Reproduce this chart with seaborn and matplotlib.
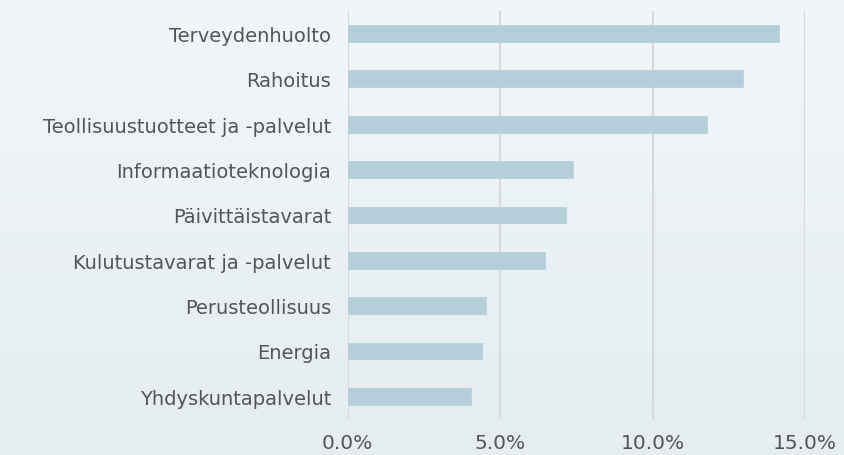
import numpy as np
import pandas as pd
import seaborn as sns
import matplotlib.pyplot as plt
from matplotlib.ticker import FuncFormatter
from matplotlib.colors import LinearSegmentedColormap

# Toimialojen painot (%)
toimialat = [
    'Terveydenhuolto',
    'Rahoitus',
    'Teollisuustuotteet ja -palvelut',
    'Informaatioteknologia',
    'Päivittäistavarat',
    'Kulutustavarat ja -palvelut',
    'Perusteollisuus',
    'Energia',
    'Yhdyskuntapalvelut',
]
osuudet = [14.13, 12.95, 11.77, 7.40, 7.17, 6.48, 4.53, 4.40, 4.05]
x_tikit = [0, 5, 10, 15]

df = pd.DataFrame({'Toimiala': toimialat, 'Osuus': osuudet})

sns.set_style('white')
plt.rcParams['font.family'] = ['DejaVu Sans']

fig = plt.figure(figsize=(8.44, 4.56), dpi=100)

# taustan liukuväri
tausta = fig.add_axes([0, 0, 1, 1], zorder=-1)
grad = np.linspace(0, 1, 256).reshape(-1, 1)
cm = LinearSegmentedColormap.from_list('bg', ['#f1f6f9', '#e5edf1'])
tausta.imshow(grad, aspect='auto', cmap=cm, extent=[0, 1, 0, 1])
tausta.axis('off')

ax = fig.add_axes([0.412, 0.079, 0.542, 0.895])
ax.patch.set_alpha(0)

sns.barplot(data=df, x='Osuus', y='Toimiala', color='#b4cfda', width=0.37,
            saturation=1, edgecolor='#b4cfda', linewidth=0.5, ax=ax, zorder=3)

ax.set_xlim(0, 15)
ax.set_ylim(8.5, -0.5)
ax.set_xticks(x_tikit)
ax.xaxis.set_major_formatter(FuncFormatter(lambda v, p: f'{v:.1f}%'))
ax.grid(axis='x', color='#d9d9d9', linewidth=1.5, zorder=0)
ax.grid(axis='y', visible=False)
for s in ax.spines.values():
    s.set_visible(False)

ax.set_xlabel('')
ax.set_ylabel('')
ax.tick_params(axis='y', length=0, pad=12, labelsize=14, labelcolor='#555555')
ax.tick_params(axis='x', length=0, pad=10, labelsize=14.5, labelcolor='#555555')

fig.savefig('out.png', dpi=100)
